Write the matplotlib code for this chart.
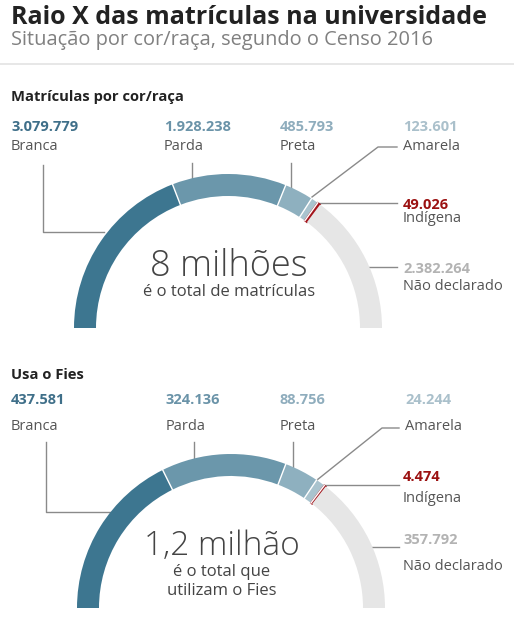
import matplotlib
matplotlib.use("Agg")
import matplotlib.pyplot as plt
from matplotlib.patches import Wedge
import numpy as np

# ---------------- data ----------------
categories = ["Branca", "Parda", "Preta", "Amarela", "Indígena", "Não declarado"]
matriculas = [3079779, 1928238, 485793, 123601, 49026, 2382264]
fies = [437581, 324136, 88756, 24244, 4474, 357792]
matriculas_labels = ["3.079.779", "1.928.238", "485.793", "123.601", "49.026", "2.382.264"]
fies_labels = ["437.581", "324.136", "88.756", "24.244", "4.474", "357.792"]

title = "Raio X das matrículas na universidade"
subtitle = "Situação por cor/raça, segundo o Censo 2016"
section1 = "Matrículas por cor/raça"
section2 = "Usa o Fies"

slice_colors = ["#3d7690", "#6b97ab", "#8eb0bf", "#a9c3ce", "#a3141c", "#e6e6e6"]
value_colors = ["#3f6f89", "#6a93a8", "#8fadbd", "#aac0cb", "#9b1111", "#b3b3b3"]
label_color = "#555555"
line_color = "#8a8a8a"

W, H = 514, 633
FONT = "Open Sans"

fig = plt.figure(figsize=(W / 100, H / 100), dpi=100)
ax = fig.add_axes([0, 0, 1, 1])
ax.set_xlim(0, W)
ax.set_ylim(0, H)
ax.axis("off")


def Y(y):
    return H - y


# ---------------- header ----------------
ax.text(11, Y(17), title, fontsize=18, fontweight="bold", color="#222222",
        family=FONT, va="center", ha="left")
ax.text(11, Y(40), subtitle, fontsize=14.4, color="#808080",
        family=FONT, va="center", ha="left")
ax.plot([0, W], [Y(64), Y(64)], color="#e3e3e3", lw=1.2)


def draw_chart(values, value_labels, center, R, width, sec_title, sec_y,
               val_y, lab_y, val_x, leaders, right_pos, center_x, center_texts):
    cx, cy = center
    total = float(sum(values))
    frac = np.array(values) / total
    cum = np.concatenate([[0], np.cumsum(frac)])
    # arc segments from left (180 deg) to right (0 deg)
    for i, c in enumerate(slice_colors):
        t2 = 180 - cum[i] * 180
        t1 = 180 - cum[i + 1] * 180
        ec = c if i == 4 else "none"
        lw = 1.2 if i == 4 else 0
        ax.add_patch(Wedge((cx, Y(cy)), R, t1, t2, width=width,
                           facecolor=c, edgecolor=ec, lw=lw, zorder=2))
    # white separators
    for i in [1, 2, 3, 4]:
        a = np.deg2rad(180 - cum[i] * 180)
        ax.plot([cx + (R - width) * np.cos(a), cx + R * np.cos(a)],
                [Y(cy) + (R - width) * np.sin(a), Y(cy) + R * np.sin(a)],
                color="white", lw=1.0, zorder=3)

    ax.text(11, Y(sec_y), sec_title, fontsize=10.6, fontweight="bold",
            color="#222222", family=FONT, va="center", ha="left")

    # top labels (first four)
    for i in range(4):
        ax.text(val_x[i], Y(val_y), value_labels[i], fontsize=10.5,
                fontweight="bold", color=value_colors[i], family=FONT,
                va="center", ha="left")
        ax.text(val_x[i], Y(lab_y), categories[i], fontsize=10.5,
                color=label_color, family=FONT, va="center", ha="left")
    # right labels
    for i, (vy, ly) in zip([4, 5], right_pos):
        ax.text(403, Y(vy), value_labels[i], fontsize=10.5, fontweight="bold",
                color=value_colors[i], family=FONT, va="center", ha="left")
        ax.text(403, Y(ly), categories[i], fontsize=10.5, color=label_color,
                family=FONT, va="center", ha="left")

    for pts in leaders:
        xs = [p[0] for p in pts]
        ys = [Y(p[1]) for p in pts]
        ax.plot(xs, ys, color=line_color, lw=1.0, zorder=1)

    for txt, ty, fs in center_texts:
        ax.text(center_x, Y(ty), txt, fontsize=fs, color="#444444", family=FONT,
                fontweight="light" if fs > 20 else "normal",
                va="center", ha="center")


draw_chart(
    matriculas, matriculas_labels, (228, 328), 154, 22, section1, 97,
    127, 146, [11, 164, 280, 403],
    [
        [(43, 165), (43, 232), (104, 232)],
        [(192, 163), (192, 178)],
        [(291, 163), (291, 189)],
        [(312, 197), (378, 147), (397, 147)],
        [(315, 203), (397, 203)],
        [(366, 267), (397, 267)],
    ],
    [(205, 219), (269, 287)],
    229,
    [("8 milhões", 266, 26), ("é o total de matrículas", 292, 12)],
)

draw_chart(
    fies, fies_labels, (231, 608), 154, 22, section2, 375,
    400, 427, [11, 166, 280, 405],
    [
        [(46, 442), (46, 512), (110, 512)],
        [(194, 442), (194, 458)],
        [(293, 442), (293, 468)],
        [(317, 480), (382, 428), (399, 428)],
        [(323, 485), (399, 485)],
        [(370, 547), (399, 547)],
    ],
    [(477, 499), (540, 567)],
    222,
    [("1,2 milhão", 546, 24), ("é o total que", 572, 12),
     ("utilizam o Fies", 591, 12)],
)

fig.savefig("out.png", dpi=100, facecolor="white")
